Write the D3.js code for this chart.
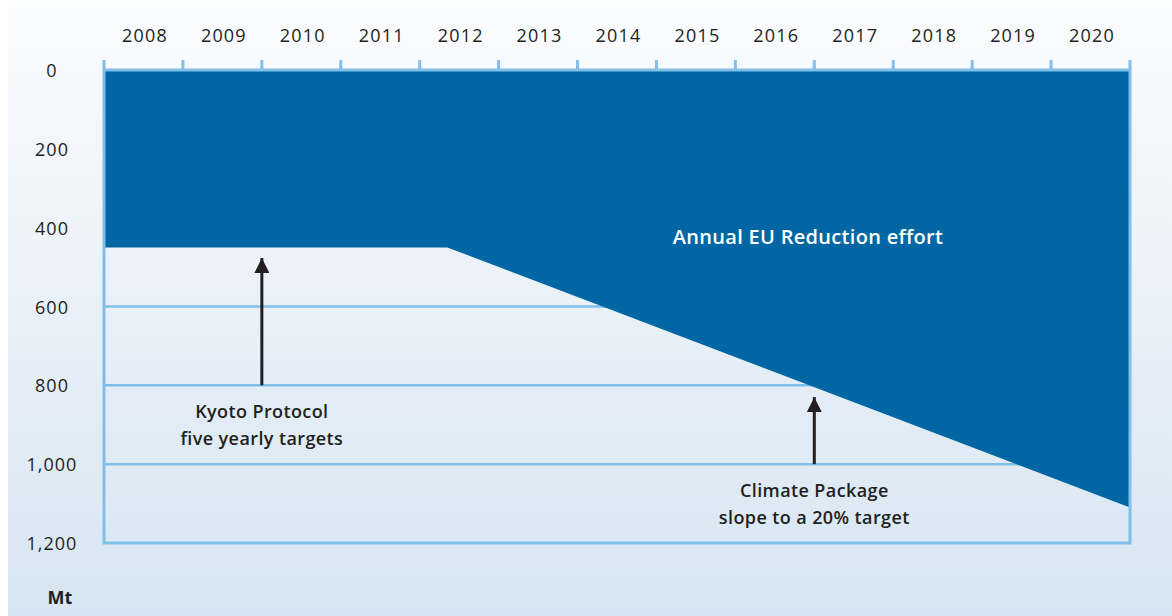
<!DOCTYPE html>
<html>
<head>
<meta charset="utf-8">
<script src="https://cdn.jsdelivr.net/npm/d3@7"></script>
<style>
  html, body { margin: 0; padding: 0; background: #ffffff; }
  svg { display: block; }
  text { font-family: "Open Sans", "DejaVu Sans", sans-serif; fill: #231f20; }
</style>
</head>
<body>
<svg id="chart" width="1172" height="616"></svg>
<script>
// Years shown along the top, one band per year
const years = [2008, 2009, 2010, 2011, 2012, 2013, 2014, 2015, 2016, 2017, 2018, 2019, 2020];
// Mt scale, drawn downwards from 0
const yTicks = [0, 200, 400, 600, 800, 1000, 1200];
const gridValues = [600, 800, 1000];
// Reduction effort boundary: flat Kyoto level, then the slope to the 2020 target
const effortYears = [2008, 2012.35, 2021];
const effortValues = [450, 450, 1110];
// Arrows: [x position in years, from value, to value]
const arrowX = [2010, 2017];
const arrowFrom = [800, 1000];
const arrowTo = [477, 830];
const noteLines = [["Kyoto Protocol", "five yearly targets"], ["Climate Package", "slope to a 20% target"]];

const svg = d3.select("#chart");
const W = 1172, H = 616;
const x = d3.scaleLinear().domain([2008, 2021]).range([104, 1130]);
const y = d3.scaleLinear().domain([0, 1200]).range([70, 543]);

const defs = svg.append("defs");
const bg = defs.append("linearGradient").attr("id", "bg").attr("x1", 0).attr("y1", 0).attr("x2", 0).attr("y2", 1);
bg.append("stop").attr("offset", "0%").attr("stop-color", "#fbfcfe");
bg.append("stop").attr("offset", "100%").attr("stop-color", "#d7e5f2");
const mk = defs.append("marker").attr("id", "head").attr("viewBox", "0 0 10 10")
  .attr("refX", 10).attr("refY", 5).attr("markerWidth", 5).attr("markerHeight", 5)
  .attr("markerUnits", "strokeWidth").attr("orient", "auto");
mk.append("path").attr("d", "M0,0 L10,5 L0,10 Z").attr("fill", "#231f20");

svg.append("rect").attr("x", 8).attr("y", 0).attr("width", W - 8).attr("height", H).attr("fill", "url(#bg)");

// Plot body
const plot = svg.append("g");
plot.selectAll("line.grid").data(gridValues).join("line")
  .attr("class", "grid")
  .attr("x1", x(2008)).attr("x2", x(2021))
  .attr("y1", d => y(d)).attr("y2", d => y(d))
  .attr("stroke", "#7fbfea").attr("stroke-width", 2.5);

const effort = effortYears.map((yr, i) => ({ yr, v: effortValues[i] }));
const area = d3.area().x(d => x(d.yr)).y0(y(0)).y1(d => y(d.v));
plot.append("path").datum(effort).attr("d", area).attr("fill", "#0067a4");

plot.append("rect")
  .attr("x", x(2008)).attr("y", y(0))
  .attr("width", x(2021) - x(2008)).attr("height", y(1200) - y(0))
  .attr("fill", "none").attr("stroke", "#7fbfea").attr("stroke-width", 3);

// Top axis: band boundaries as ticks, year labels centred in each band
const xTickYears = d3.range(2008, 2022);
svg.append("g").selectAll("line").data(xTickYears).join("line")
  .attr("x1", d => x(d)).attr("x2", d => x(d))
  .attr("y1", y(0) - 10).attr("y2", y(0))
  .attr("stroke", "#7fbfea").attr("stroke-width", 3);
svg.append("g").selectAll("text").data(years).join("text")
  .attr("x", d => x(d + 0.5) + 1.5).attr("y", 42)
  .attr("text-anchor", "middle").attr("font-size", 18).attr("letter-spacing", 1.2)
  .text(d => d);

// Left axis labels
const fmt = d3.format(",");
svg.append("g").selectAll("text").data(yTicks).join("text")
  .attr("x", 52).attr("y", d => y(d) + 7)
  .attr("text-anchor", "middle").attr("font-size", 18).attr("letter-spacing", 1)
  .text(d => fmt(d));
svg.append("text").attr("x", 60).attr("y", 604).attr("text-anchor", "middle")
  .attr("font-size", 18).attr("font-weight", 700).text("Mt");

// Label inside the reduction area
svg.append("text").attr("x", 808).attr("y", 244).attr("text-anchor", "middle")
  .attr("font-size", 20).attr("font-weight", 600).attr("letter-spacing", 0.3)
  .style("fill", "#ffffff")
  .text("Annual EU Reduction effort");

// Arrows and their notes
arrowX.forEach((ax, i) => {
  svg.append("line")
    .attr("x1", x(ax)).attr("x2", x(ax))
    .attr("y1", y(arrowFrom[i])).attr("y2", y(arrowTo[i]))
    .attr("stroke", "#231f20").attr("stroke-width", 3)
    .attr("marker-end", "url(#head)");
  const t = svg.append("text").attr("text-anchor", "middle")
    .attr("font-size", 18).attr("font-weight", 600).attr("letter-spacing", 0.4);
  noteLines[i].forEach((ln, j) => {
    t.append("tspan").attr("x", x(ax)).attr("y", y(arrowFrom[i]) + 33 + j * 27).text(ln);
  });
});
</script>
</body>
</html>
